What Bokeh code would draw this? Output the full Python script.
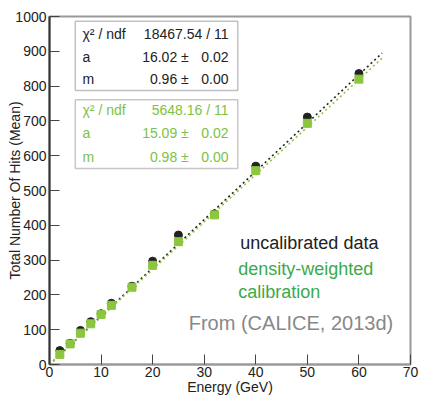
from bokeh.plotting import figure
from bokeh.models import Label, BoxAnnotation, FixedTicker, Range1d
from bokeh.embed import file_html
from bokeh.resources import INLINE

# ---- data ----
energy = [2, 4, 6, 8, 10, 12, 16, 20, 25, 32, 40, 50, 60]
hits_uncal = [40, 61, 98, 123, 146, 176, 225, 297, 372, 433, 570, 711, 836]
hits_dw = [29, 59, 90, 117, 144, 170, 222, 285, 353, 430, 557, 693, 820]

fit_uncal_x = [0, 64.5]
fit_uncal_y = [0, 895]
fit_dw_x = [0, 64.7]
fit_dw_y = [0, 883]

x_ticks = [0, 10, 20, 30, 40, 50, 60, 70]
y_ticks = [0, 100, 200, 300, 400, 500, 600, 700, 800, 900, 1000]

stat_names = ["χ² / ndf", "a", "m"]
stat_uncal_val = ["18467.54 / 11", "16.02 ±", "0.96 ±"]
stat_uncal_err = ["", "0.02", "0.00"]
stat_dw_val = ["5648.16 / 11", "15.09 ±", "0.98 ±"]
stat_dw_err = ["", "0.02", "0.00"]

BLACK = "#222222"
GREEN_PT = "#8cc63f"
GREEN_TXT = "#7dc242"
GREEN_LBL = "#3aaa4a"
FONT = "Liberation Sans"

p = figure(width=423, height=397, output_backend="svg", toolbar_location=None,
           x_range=Range1d(0, 70), y_range=Range1d(0, 1000),
           min_border_left=49, min_border_right=13, min_border_top=16, min_border_bottom=33)
p.background_fill_color = "white"
p.border_fill_color = "white"
p.outline_line_color = "#999999"
p.outline_line_width = 2
p.xgrid.visible = False
p.ygrid.visible = False

for ax, ticks in ((p.xaxis, x_ticks), (p.yaxis, y_ticks)):
    ax.ticker = FixedTicker(ticks=ticks, num_minor_ticks=5)
    ax.major_tick_in = 10
    ax.major_tick_out = 0
    ax.minor_tick_in = 5
    ax.minor_tick_out = 0
    ax.major_label_text_font = FONT
    ax.major_label_text_font_size = "14px"
    ax.major_label_text_color = BLACK
    ax.axis_label_text_font = FONT
    ax.axis_label_text_font_size = "14px"
    ax.axis_label_text_font_style = "normal"
    ax.axis_label_text_color = BLACK
    ax.major_tick_line_color = "#444444"
    ax.minor_tick_line_color = "#444444"

p.xaxis.axis_label = "Energy (GeV)"
p.yaxis.axis_label = "Total Number Of Hits (Mean)"
p.xaxis.axis_line_color = "#999999"
p.xaxis.axis_line_width = 2
p.yaxis.axis_line_color = "#333333"
p.yaxis.axis_line_width = 2
p.xaxis.major_label_standoff = 2
p.xaxis.axis_label_standoff = -1
p.yaxis.major_label_standoff = 3
p.yaxis.axis_label_standoff = -11

# fit lines
p.line(fit_uncal_x, fit_uncal_y, line_color=BLACK, line_width=1.6, line_dash="2 3")
p.line(fit_dw_x, fit_dw_y, line_color=GREEN_PT, line_width=1.6, line_dash="2 3")

# data points
p.scatter(energy, hits_uncal, marker="circle", size=8, fill_color=BLACK, line_color=BLACK)
p.scatter(energy, hits_dw, marker="square", size=8, fill_color=GREEN_PT, line_color=GREEN_PT)

# stat boxes
p.add_layout(BoxAnnotation(left=5.0, right=36.5, top=986, bottom=787,
                           fill_color="white", fill_alpha=1.0,
                           line_color="#333333", line_width=1.5))
p.add_layout(BoxAnnotation(left=5.0, right=36.5, top=761, bottom=563,
                           fill_color="white", fill_alpha=1.0,
                           line_color="#444444", line_width=1.5))

rows_uncal = [951, 885, 819]
rows_dw = [730, 664, 596]
for rows, vals, errs, col in ((rows_uncal, stat_uncal_val, stat_uncal_err, BLACK),
                              (rows_dw, stat_dw_val, stat_dw_err, GREEN_TXT)):
    for y, name, v, e in zip(rows, stat_names, vals, errs):
        p.add_layout(Label(x=6.4, y=y, text=name, text_font=FONT, text_font_size="14px",
                           text_color=col, text_baseline="middle", text_align="left"))
        if e:
            p.add_layout(Label(x=27.0, y=y, text=v, text_font=FONT, text_font_size="14px",
                               text_color=col, text_baseline="middle", text_align="right"))
            p.add_layout(Label(x=34.7, y=y, text=e, text_font=FONT, text_font_size="14px",
                               text_color=col, text_baseline="middle", text_align="right"))
        else:
            p.add_layout(Label(x=34.7, y=y, text=v, text_font=FONT, text_font_size="14px",
                               text_color=col, text_baseline="middle", text_align="right"))

p.add_layout(Label(x=37.0, y=348, text="uncalibrated data", text_font=FONT,
                   text_font_size="18px", text_color=BLACK, text_baseline="middle"))
p.add_layout(Label(x=36.6, y=273, text="density-weighted", text_font=FONT,
                   text_font_size="18px", text_color=GREEN_LBL, text_baseline="middle"))
p.add_layout(Label(x=36.6, y=207, text="calibration", text_font=FONT,
                   text_font_size="18px", text_color=GREEN_LBL, text_baseline="middle"))
p.add_layout(Label(x=27.0, y=118, text="From (CALICE, 2013d)", text_font=FONT,
                   text_font_size="20px", text_color="#888888", text_baseline="middle"))

open("out.html", "w").write(file_html(p, INLINE))
